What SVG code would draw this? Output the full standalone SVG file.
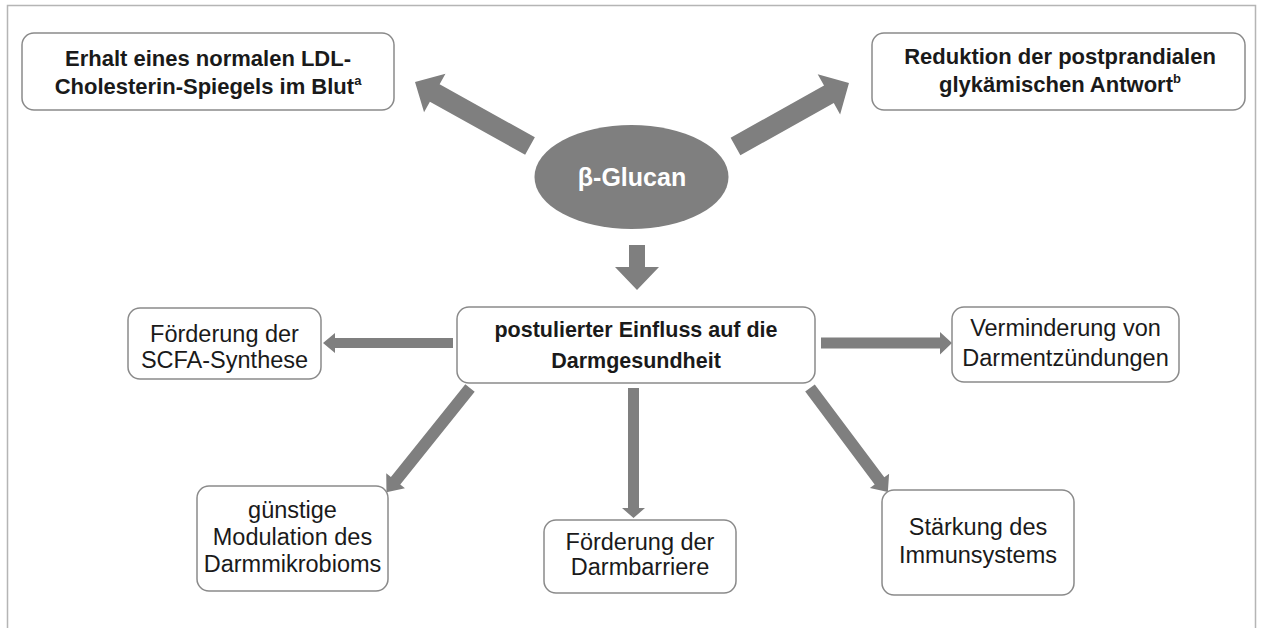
<svg xmlns="http://www.w3.org/2000/svg" width="1263" height="628" viewBox="0 0 1263 628">
<style>
.box{fill:#fff;stroke:#8a8a8a;stroke-width:1.5}
.arr{fill:#7f7f7f}
.tb{font-family:"Liberation Sans",Arial,sans-serif;font-weight:bold;font-size:21.5px;fill:#1a1a1a;text-anchor:middle}
.tn{font-family:"Liberation Sans",Arial,sans-serif;font-size:23.5px;fill:#1a1a1a;text-anchor:middle}
.big{font-size:22px}
.sup{font-size:13px}
.beta{font-size:25px;fill:#fff}
</style>
<rect x="0" y="0" width="1263" height="628" fill="#fff"/>
<path d="M7.5 640 V5.5 H1255.5 V640" fill="none" stroke="#b5b5b5" stroke-width="1.5"/>
<g id="connectors">
<polygon class="arr" points="0,-10 109,-10 109,-22 131.6,0 109,22 109,10 0,10" transform="translate(530,146) rotate(-150.9)"/>
<polygon class="arr" points="0,-10 107,-10 107,-23 130,0 107,23 107,10 0,10" transform="translate(735.5,146.5) rotate(-29.2)"/>
<polygon class="arr" points="633,245 645,245 645,267 659,267 637,290 615,267 629,267 629,245"/>
<polygon class="arr" points="453,338 335,338 335,333 323,343 335,353 335,348 453,348"/>
<polygon class="arr" points="821,337.5 940,337.5 940,332 952,343 940,354.5 940,348.5 821,348.5"/>
<polygon class="arr" points="628,388 639,388 639,508 645,508 633.5,518 622,508 628,508"/>
<polygon class="arr" points="0,-6 119,-6 119,-12 133.6,0 119,12 119,6 0,6" transform="translate(470,388) rotate(128.7)"/>
<polygon class="arr" points="0,-6 116,-6 116,-12 130,0 116,12 116,6 0,6" transform="translate(810,388) rotate(53.2)"/>
</g>
<g id="ldl">
<rect class="box" x="22" y="33" width="372" height="77" rx="12"/>
<text class="tb big" x="208" y="66">Erhalt eines normalen LDL-</text>
<text class="tb big" x="208" y="94">Cholesterin-Spiegels im Blut<tspan class="sup" dy="-9">a</tspan></text>
</g>
<g id="glyk">
<rect class="box" x="872" y="33" width="373" height="77" rx="12"/>
<text class="tb big" x="1060" y="64">Reduktion der postprandialen</text>
<text class="tb big" x="1060" y="92">glykämischen Antwort<tspan class="sup" dy="-9">b</tspan></text>
</g>
<g id="glucan">
<ellipse cx="631.5" cy="177" rx="97" ry="52" fill="#7f7f7f"/>
<text class="tb beta" x="632" y="186">β-Glucan</text>
</g>
<g id="darm">
<rect class="box" x="457" y="307" width="358" height="76" rx="12"/>
<text class="tb" x="636" y="337">postulierter Einfluss auf die</text>
<text class="tb" x="636" y="368">Darmgesundheit</text>
</g>
<g id="scfa">
<rect class="box" x="128" y="308" width="193" height="71" rx="12"/>
<text class="tn" x="224.5" y="342">Förderung der</text>
<text class="tn" x="224.5" y="368">SCFA-Synthese</text>
</g>
<g id="entz">
<rect class="box" x="952" y="307" width="227" height="75" rx="12"/>
<text class="tn" x="1065.5" y="336">Verminderung von</text>
<text class="tn" x="1065.5" y="366">Darmentzündungen</text>
</g>
<g id="mikro">
<rect class="box" x="197" y="486" width="191" height="105" rx="12"/>
<text class="tn" x="292.5" y="518">günstige</text>
<text class="tn" x="292.5" y="545">Modulation des</text>
<text class="tn" x="292.5" y="572">Darmmikrobioms</text>
</g>
<g id="barriere">
<rect class="box" x="544" y="520" width="192" height="73" rx="12"/>
<text class="tn" x="640" y="550">Förderung der</text>
<text class="tn" x="640" y="575">Darmbarriere</text>
</g>
<g id="immun">
<rect class="box" x="882" y="490" width="192" height="105" rx="12"/>
<text class="tn" x="978" y="535">Stärkung des</text>
<text class="tn" x="978" y="563">Immunsystems</text>
</g>
</svg>
